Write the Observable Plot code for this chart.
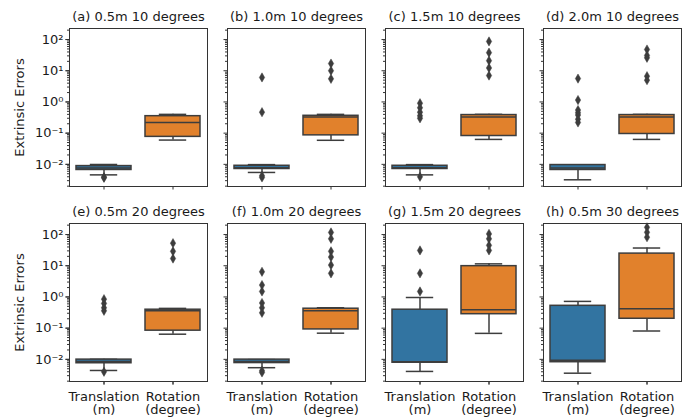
<!DOCTYPE html>
<html><head><meta charset="utf-8">
<script src="https://cdn.jsdelivr.net/npm/d3@7"></script>
<script src="https://cdn.jsdelivr.net/npm/@observablehq/plot@0.6"></script>
<style>body{margin:0;background:#fff} #chart{width:694px;height:418px}</style>
</head><body><div id="chart"></div>
<script>
const panelTitles = ["(a) 0.5m 10 degrees","(b) 1.0m 10 degrees","(c) 1.5m 10 degrees","(d) 2.0m 10 degrees",
                     "(e) 0.5m 20 degrees","(f) 1.0m 20 degrees","(g) 1.5m 20 degrees","(h) 0.5m 30 degrees"];
const panelCols = [0,1,2,3,0,1,2,3];
const panelRows = [0,0,0,0,1,1,1,1];
const categories = ["Translation\n(m)", "Rotation\n(degree)"];
const catColors = ["#3274a1", "#e1812c"];
const yLabel = "Extrinsic Errors";

// Translation (m) box statistics per panel
const transLo  = [0.0046,0.0055,0.0046,0.0032,0.0044,0.0054,0.0041,0.0036];
const transQ1  = [0.0066,0.0071,0.0071,0.0066,0.0075,0.0076,0.0078,0.0081];
const transMed = [0.0076,0.0078,0.0078,0.0077,0.0085,0.0085,0.0083,0.0093];
const transQ3  = [0.0088,0.0090,0.0090,0.0095,0.0098,0.0098,0.39,0.52];
const transHi  = [0.0099,0.0098,0.0098,0.0095,0.0100,0.0098,0.96,0.72];
const transOut = [[0.0037,0.0039],[6.1,0.47,0.0043,0.0038],[0.91,0.65,0.47,0.36,0.30,0.0040],
                  [5.6,1.15,0.55,0.45,0.38,0.28,0.22],[0.85,0.62,0.45,0.36,0.0040],
                  [6.4,2.4,1.5,0.64,0.45,0.31,0.0043,0.0038],[31,5.7,1.5],[]];

// Rotation (degree) box statistics per panel
const rotLo  = [0.060,0.059,0.063,0.063,0.064,0.069,0.068,0.081];
const rotQ1  = [0.076,0.085,0.081,0.094,0.083,0.091,0.28,0.20];
const rotMed = [0.22,0.33,0.33,0.33,0.36,0.36,0.39,0.42];
const rotQ3  = [0.35,0.36,0.38,0.38,0.39,0.42,9.7,24.5];
const rotHi  = [0.40,0.40,0.40,0.40,0.43,0.45,11.5,37];
const rotOut = [[],[17,10,5.5],[87,38,21,12.3,7.0],[48,31,26,6.7,5.0],[53,29,17],
                [117,73,29,19,10.5,5.7],[105,73,45,31],[170,118,82]];

const yTicks = [0.01, 0.1, 1, 10, 100];
const yTickLabels = ["10⁻²","10⁻¹","10⁰","10¹","10²"];
const yMinorTicks = [];
for (const base of [0.001,0.01,0.1,1,10,100]) for (let m = 2; m <= 9; m++) yMinorTicks.push(base*m);

const boxes = [];
const outliers = [];
panelTitles.forEach((t, i) => {
  const col = panelCols[i], row = panelRows[i];
  boxes.push({col,row,cat:categories[0],lo:transLo[i],q1:transQ1[i],med:transMed[i],q3:transQ3[i],hi:transHi[i]});
  boxes.push({col,row,cat:categories[1],lo:rotLo[i],q1:rotQ1[i],med:rotMed[i],q3:rotQ3[i],hi:rotHi[i]});
  transOut[i].forEach(v => outliers.push({col,row,cat:categories[0],v}));
  rotOut[i].forEach(v => outliers.push({col,row,cat:categories[1],v}));
});
const panels = panelTitles.map((title, i) => ({title, col: panelCols[i], row: panelRows[i]}));
const leftPanels = panels.filter(d => d.col === 0);

const gray = "#3d3d3d";
const capInset = 13.8;

const chart = Plot.plot({
  width: 694, height: 418,
  marginTop: 28, marginBottom: 36, marginLeft: 68, marginRight: 13,
  style: {fontFamily: "DejaVu Sans", fontSize: "13px", color: "#1a1a1a", background: "white"},
  fx: {domain: [0,1,2,3], paddingInner: 0.128, paddingOuter: 0, axis: null, label: null},
  fy: {domain: [0,1], paddingInner: 0.189, paddingOuter: 0, axis: null, label: null},
  x: {domain: categories, paddingInner: 0.2, paddingOuter: 0.1, label: null},
  y: {type: "log", domain: [0.00195, 226], label: null},
  color: {domain: categories, range: catColors},
  marks: [
    Plot.axisY(yMinorTicks.filter(v => v >= 0.00195 && v <= 226), {tickSize: 2, fill: "none", stroke: "#333", facetAnchor: null, label: null}),
    Plot.axisY(yTicks, {tickSize: 3.5, fill: "none", stroke: "#333", facetAnchor: null, label: null}),
    Plot.axisY(yTicks, {tickSize: 3.5, tickPadding: 2.5, stroke: "#333", facetAnchor: "left", label: null,
      tickFormat: d => yTickLabels[yTicks.indexOf(d)]}),
    Plot.axisX({tickSize: 3.5, fill: "none", stroke: "#333", facetAnchor: null, label: null}),
    Plot.axisX({tickSize: 3.5, tickPadding: 6, lineHeight: 1.03, stroke: "#333", facetAnchor: "bottom", label: null, tickFormat: d => d}),
    Plot.ruleX(boxes, {x: "cat", y1: "q3", y2: "hi", fx: "col", fy: "row", stroke: gray, strokeWidth: 1.5}),
    Plot.ruleX(boxes, {x: "cat", y1: "lo", y2: "q1", fx: "col", fy: "row", stroke: gray, strokeWidth: 1.5}),
    Plot.tickY(boxes, {x: "cat", y: "hi", fx: "col", fy: "row", stroke: gray, strokeWidth: 1.5, insetLeft: capInset, insetRight: capInset}),
    Plot.tickY(boxes, {x: "cat", y: "lo", fx: "col", fy: "row", stroke: gray, strokeWidth: 1.5, insetLeft: capInset, insetRight: capInset}),
    Plot.barY(boxes, {x: "cat", y1: "q1", y2: "q3", fx: "col", fy: "row", fill: "cat", stroke: gray, strokeWidth: 1.5}),
    Plot.tickY(boxes, {x: "cat", y: "med", fx: "col", fy: "row", stroke: gray, strokeWidth: 1.5}),
    Plot.dot(outliers, {x: "cat", y: "v", fx: "col", fy: "row", symbol: "diamond", r: 2.8, fill: gray, stroke: gray, strokeWidth: 0.5}),
    Plot.frame({stroke: "#333", strokeWidth: 1}),
    Plot.text(panels, {fx: "col", fy: "row", text: "title", frameAnchor: "top", lineAnchor: "middle", dy: -12, fill: "#1a1a1a"}),
    Plot.text(leftPanels, {fx: "col", fy: "row", text: () => yLabel, frameAnchor: "left", rotate: -90, dx: -50, textAnchor: "middle", fill: "#1a1a1a"})
  ]
});
document.getElementById("chart").appendChild(chart);
</script>
</body></html>
